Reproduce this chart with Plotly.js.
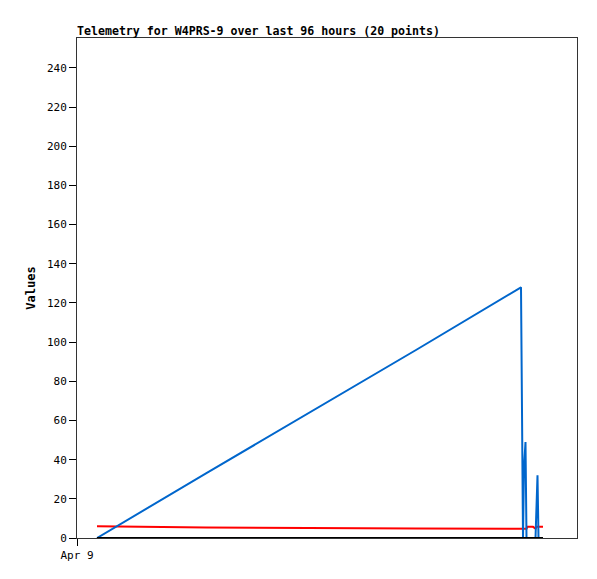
<!DOCTYPE html>
<html>
<head>
<meta charset="utf-8">
<script src="https://cdn.plot.ly/plotly-3.0.1.min.js"></script>
<style>html,body{margin:0;padding:0;background:#fff;}#chart{width:597px;height:579px;}</style>
</head>
<body>
<div id="chart"></div>
<script>
const times = [
  '2024-04-09 04:00', '2024-04-10 01:48', '2024-04-11 19:48', '2024-04-12 16:48',
  '2024-04-12 17:00', '2024-04-12 17:12', '2024-04-12 17:24', '2024-04-12 17:42',
  '2024-04-12 17:54', '2024-04-12 18:06', '2024-04-12 18:36', '2024-04-12 19:12',
  '2024-04-12 19:42', '2024-04-12 19:54', '2024-04-12 20:06', '2024-04-12 20:18',
  '2024-04-12 20:36', '2024-04-12 20:54', '2024-04-12 21:06', '2024-04-12 21:12'
];
const blueValues = [0, 33, 96, 128, 65, 0, 36, 49, 0, 0, 0, 0, 0, 16, 32, 0, 0, 0, 0, 0];
const redValues = [6.0, 5.3, 4.8, 4.7, 4.7, 4.7, 4.7, 4.7, 4.7, 5.7, 5.7, 5.7, 4.8, 5.7, 5.7, 5.7, 5.7, 5.7, 5.7, 5.7];
const blackValues = [0, 0, 0, 0, 0, 0, 0, 0, 0, 0, 0, 0, 0, 0, 0, 0, 0, 0, 0, 0];
const xTickVals = ['2024-04-09 00:00'];
const xTickText = ['Apr 9'];
const titleText = 'Telemetry for W4PRS-9 over last 96 hours (20 points)';
const yTitle = 'Values';

const mono = 'DejaVu Sans Mono, monospace';
const data = [
  {x: times, y: redValues, type: 'scatter', mode: 'lines', line: {color: '#ff0000', width: 2}, hoverinfo: 'skip'},
  {x: times, y: blueValues, type: 'scatter', mode: 'lines', line: {color: '#0066cc', width: 2}, hoverinfo: 'skip'},
  {x: times, y: blackValues, type: 'scatter', mode: 'lines', line: {color: '#000000', width: 2}, hoverinfo: 'skip'}
];
const layout = {
  width: 597, height: 579,
  margin: {l: 77, r: 20, t: 38, b: 41, pad: 0},
  paper_bgcolor: '#ffffff', plot_bgcolor: '#ffffff',
  showlegend: false,
  font: {family: mono, size: 11, color: '#000'},
  title: {text: '<b>' + titleText + '</b>', font: {family: mono, size: 11.6, color: '#000'},
          xref: 'paper', x: 0, xanchor: 'left', yref: 'container', y: 1 - 31/579, yanchor: 'middle'},
  xaxis: {
    type: 'date', range: ['2024-04-09 00:00', '2024-04-13 04:00'],
    tickmode: 'array', tickvals: xTickVals, ticktext: xTickText,
    ticks: 'outside', ticklen: 7, tickcolor: '#000', tickwidth: 1,
    showgrid: false, zeroline: false,
    showline: true, linecolor: '#333', linewidth: 1, mirror: true,
    tickfont: {family: mono, size: 11, color: '#000'}
  },
  yaxis: {
    range: [0, 255.3], dtick: 20, tick0: 0,
    ticks: 'outside', ticklen: 7, tickcolor: '#000', tickwidth: 1,
    showgrid: false, zeroline: false,
    showline: true, linecolor: '#333', linewidth: 1, mirror: true,
    tickfont: {family: mono, size: 11, color: '#000'},
    title: {text: '<b>' + yTitle + '</b>', font: {family: mono, size: 12, color: '#000'}, standoff: 8}
  }
};
Plotly.newPlot('chart', data, layout, {staticPlot: true, displayModeBar: false});
</script>
</body>
</html>
